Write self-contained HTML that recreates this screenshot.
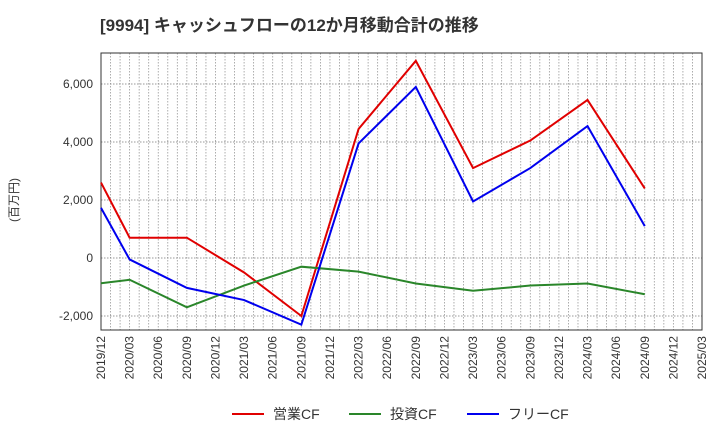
<!DOCTYPE html>
<html><head><meta charset="utf-8"><style>
body{margin:0;background:#fff;width:720px;height:440px;overflow:hidden;font-family:"Liberation Sans","Noto Sans CJK JP",sans-serif}
</style></head><body>
<svg id="chart" width="720" height="440" xmlns="http://www.w3.org/2000/svg" font-family="Liberation Sans, Noto Sans CJK JP, sans-serif">
<text x="100" y="31" font-size="17" font-weight="bold" fill="#333">[9994]  キャッシュフローの12か月移動合計の推移</text>
<text transform="translate(18,200) rotate(-90)" text-anchor="middle" font-size="12" fill="#333">(百万円)</text>
<g id="grid"></g><g id="axes"></g><g id="series"></g>
<g font-size="14" fill="#333">
<line x1="232" y1="414" x2="264" y2="414" stroke="#e00000" stroke-width="2"/><text x="273" y="419">営業CF</text>
<line x1="349" y1="414" x2="381" y2="414" stroke="#2a862a" stroke-width="2"/><text x="390" y="419">投資CF</text>
<line x1="467" y1="414" x2="499" y2="414" stroke="#0000ee" stroke-width="2"/><text x="508" y="419">フリーCF</text>
</g>
</svg>
<script>
const xLabels=["2019/12","2020/03","2020/06","2020/09","2020/12","2021/03","2021/06","2021/09","2021/12","2022/03","2022/06","2022/09","2022/12","2023/03","2023/06","2023/09","2023/12","2024/03","2024/06","2024/09","2024/12","2025/03"];
const yTicks=[-2000,0,2000,4000,6000];
const dataQuarters=[0,1,3,5,7,9,11,13,15,17,19];
const operatingCF=[2600,700,700,-500,-2000,4450,6800,3100,4050,5450,2400];
const investingCF=[-870,-750,-1700,-950,-300,-470,-880,-1130,-950,-880,-1250];
const freeCF=[1730,-50,-1030,-1450,-2300,3950,5900,1950,3100,4550,1100];
const L=101,R=702,T=53,B=330;
const x=q=>L+q*(R-L)/21;
const y=v=>258-v*58/2000;
const NS="http://www.w3.org/2000/svg";
function mk(tag,attrs,parent){const e=document.createElementNS(NS,tag);for(const k in attrs)e.setAttribute(k,attrs[k]);parent.appendChild(e);return e;}
const grid=document.getElementById('grid'),axes=document.getElementById('axes'),ser=document.getElementById('series');
for(let m=1;m<63;m++){const xx=L+m*(R-L)/63;const g=mk('line',{x1:xx,x2:xx,y1:T,y2:B,stroke:'#999','stroke-dasharray':'1.5,1.5','stroke-width':0.8},grid);

}
yTicks.forEach(v=>{const g=mk('line',{x1:L,x2:R,y1:y(v),y2:y(v),stroke:'#777','stroke-dasharray':'1.5,1.5','stroke-width':0.8},grid);


const t=mk('text',{x:L-8,y:y(v)+4,'text-anchor':'end','font-size':12,fill:'#333'},axes);t.textContent=v.toLocaleString('en-US');

});
const frame=mk('rect',{x:L,y:T,width:R-L,height:B-T,fill:'none',stroke:'#333','stroke-width':1},axes);


xLabels.forEach((s,i)=>{const t=mk('text',{transform:`translate(${x(i)+4},${B+6}) rotate(-90)`,'text-anchor':'end','font-size':12,fill:'#333'},axes);t.textContent=s;

});
[[operatingCF,'#e00000','operating-cf-line'],[investingCF,'#2a862a','investing-cf-line'],[freeCF,'#0000ee','free-cf-line']].forEach(([d,c,n])=>{
const p=mk('polyline',{points:d.map((v,i)=>x(dataQuarters[i])+','+y(v)).join(' '),fill:'none',stroke:c,'stroke-width':2},ser);

});
</script>
</body></html>
